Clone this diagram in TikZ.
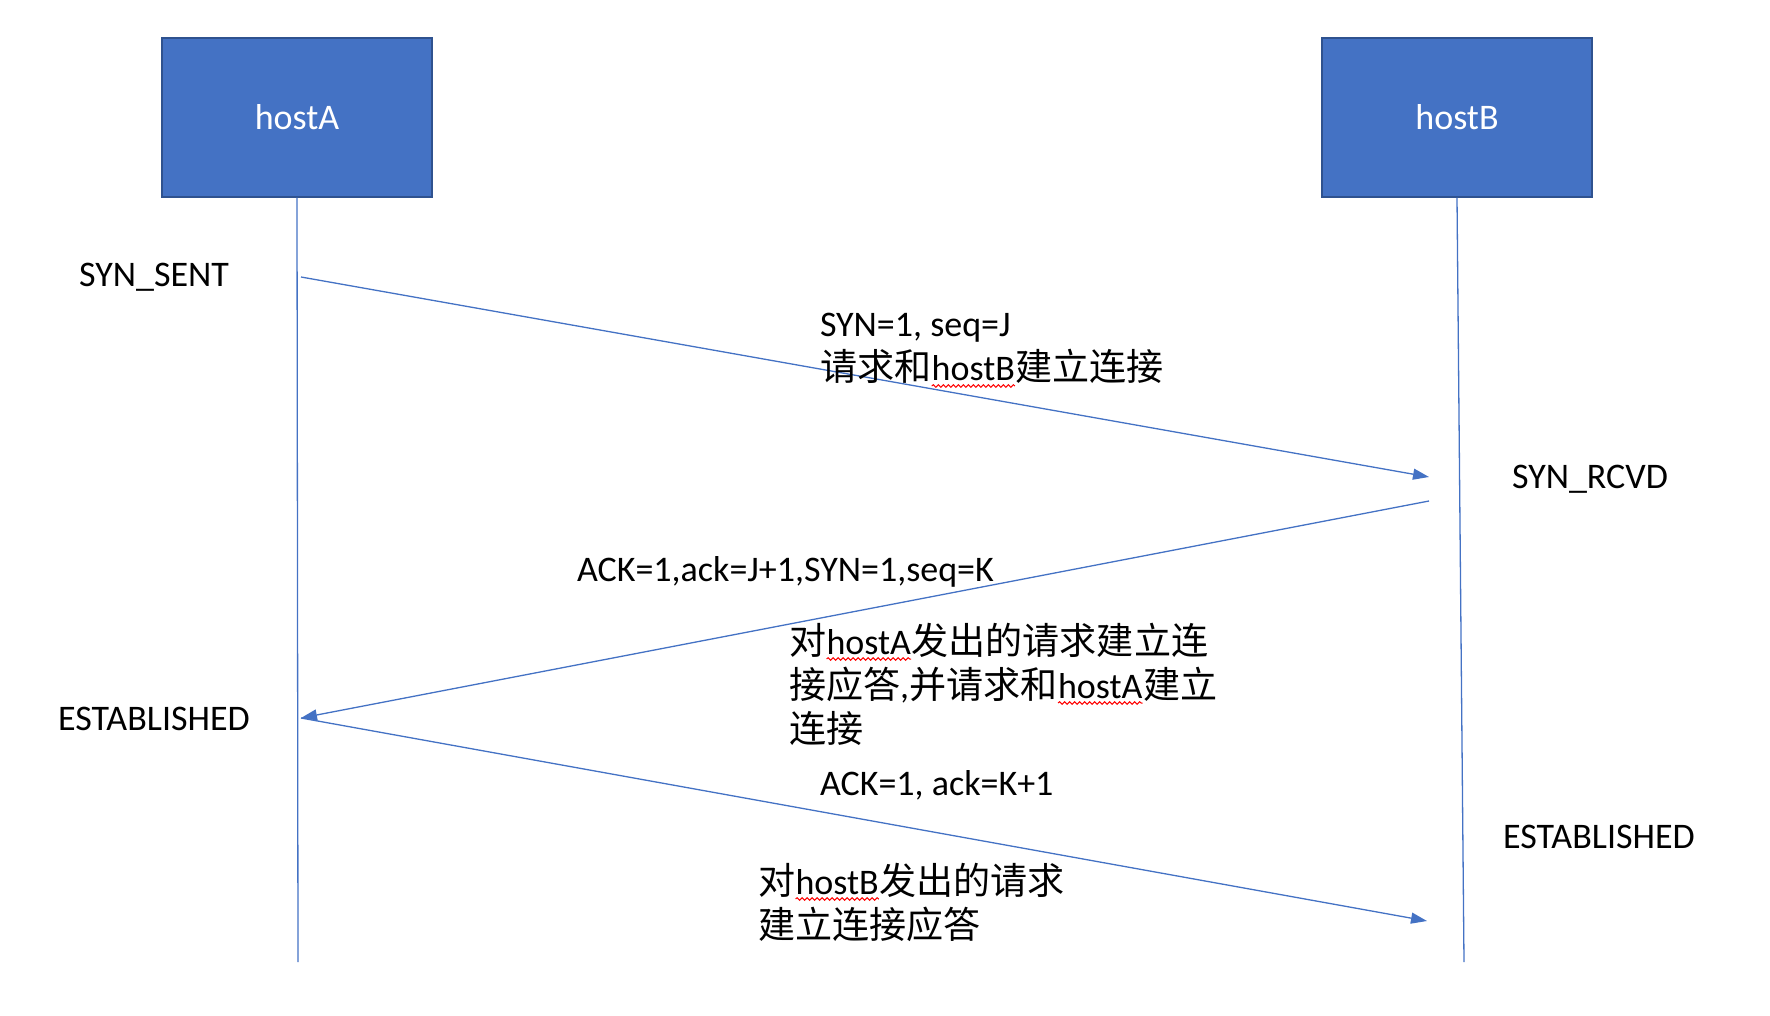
\documentclass[tikz,border=0pt]{standalone}
\usepackage{fontspec}
\setmainfont{Carlito}
\newfontfamily\cjk[Scale=1.03]{Noto Sans CJK SC}
\usetikzlibrary{arrows.meta,decorations.pathmorphing}
\definecolor{officeblue}{HTML}{4472C4}
\definecolor{officedark}{HTML}{2F528F}
\newcommand\wavy[1]{\tikz[baseline=(w.base)]{\node[inner sep=0pt,outer sep=0pt](w){#1};\draw[red,line width=1pt,decorate,decoration={snake,amplitude=1.3pt,segment length=5pt}]([yshift=-5pt]w.base west)--([yshift=-5pt]w.base east);}}
\newcommand\zh[1]{{\cjk #1}}
\tikzset{
  hostbox/.style={draw=officedark,line width=1.5pt,fill=officeblue,minimum width=270pt,minimum height=159pt,text=white,inner sep=0pt},
  lifeline/.style={draw=officeblue,line width=1.3pt},
  msg/.style={draw=officeblue,line width=1.3pt,-{Triangle[length=16pt,width=11pt]}},
  lbl/.style={inner sep=0pt,outer sep=0pt,align=left,text=black},
  state/.style={inner sep=0pt,outer sep=0pt,text=black}
}
\begin{document}
\begin{tikzpicture}[x=1pt,y=-1pt,font=\fontsize{36}{44}\selectfont]
\useasboundingbox (0,0) rectangle (1770,1016);
% hosts
\node[hostbox] (A) at (297,117.5) {hostA};
\node[hostbox] (B) at (1457,117.5) {hostB};
% lifeline ends
\coordinate (Aend) at (298,962);
\coordinate (Bend) at (1464,962);
\draw[lifeline] (A.south) -- (Aend);
\draw[lifeline] (B.south) -- (Bend);
% message endpoints
\coordinate (m1s) at (301,277);
\coordinate (m1e) at (1429,477);
\coordinate (m2s) at (1429,501);
\coordinate (m2e) at (301,718);
\coordinate (m3e) at (1427,921);
\draw[msg] (m1s) -- (m1e);
\draw[msg] (m2s) -- (m2e);
\draw[msg] (m2e) -- (m3e);
% states
\node[state,anchor=base] (s1) at (154,286.5) {SYN\_SENT};
\node[state,anchor=base] (s2) at (1590,488) {SYN\_RCVD};
\node[state,anchor=base] (s3) at (154,730) {ESTABLISHED};
\node[state,anchor=base] (s4) at (1599,848) {ESTABLISHED};
% labels (base = baseline of last line)
\node[lbl,anchor=base west] (l1) at (820,381) {SYN=1, seq=J\\\zh{请求和}\wavy{hostB}\zh{建立连接}};
\node[lbl,anchor=base west] (l2) at (577,581.5) {ACK=1,ack=J+1,SYN=1,seq=K};
\node[lbl,anchor=base west] (l3) at (789,742) {\zh{对}\wavy{hostA}\zh{发出的请求建立连}\\\zh{接应答},\zh{并请求和}\wavy{hostA}\zh{建立}\\\zh{连接}};
\node[lbl,anchor=base west] (l4) at (820,795) {ACK=1, ack=K+1};
\node[lbl,anchor=base west] (l5) at (758,938) {\zh{对}\wavy{hostB}\zh{发出的请求}\\\zh{建立连接应答}};
\end{tikzpicture}
\end{document}
